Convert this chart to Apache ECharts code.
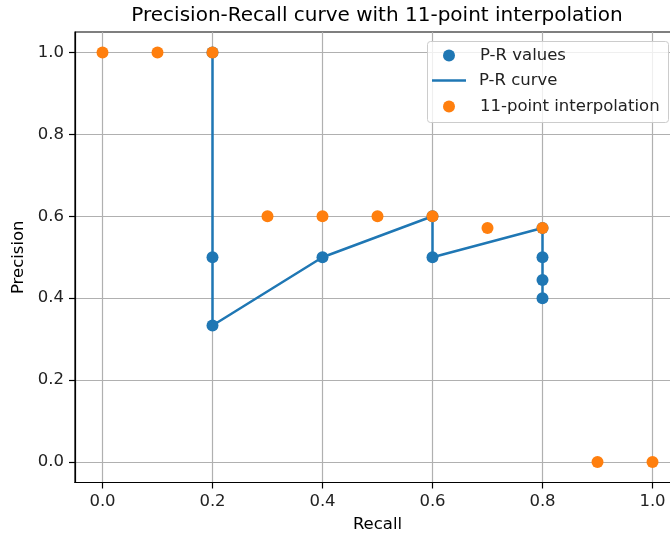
<!DOCTYPE html>
<html>
<head>
<meta charset="utf-8">
<script src="https://cdn.jsdelivr.net/npm/echarts@6/dist/echarts.min.js"></script>
<style>
html,body{margin:0;padding:0;background:#fff;}
#c{width:670px;height:536px;}
</style>
</head>
<body>
<div id="c"></div>
<script>
// P-R values (blue) in order of the curve
const prRecall = [0.2, 0.2, 0.2, 0.4, 0.6, 0.6, 0.8, 0.8, 0.8, 0.8];
const prPrecision = [1.0, 0.5, 0.3333, 0.5, 0.6, 0.5, 0.5714, 0.5, 0.4444, 0.4];
// 11-point interpolation (orange)
const interpRecall = [0.0, 0.1, 0.2, 0.3, 0.4, 0.5, 0.6, 0.7, 0.8, 0.9, 1.0];
const interpPrecision = [1.0, 1.0, 1.0, 0.6, 0.6, 0.6, 0.6, 0.5714, 0.5714, 0.0, 0.0];
// tick labels
const xTicks = [0.0, 0.2, 0.4, 0.6, 0.8, 1.0];
const yTicks = [0.0, 0.2, 0.4, 0.6, 0.8, 1.0];

const FONT = 'DejaVu Sans';
const FS = 16.5;
const blue = '#1f77b4', orange = '#ff7f0e';
const prPts = prRecall.map((r, i) => [r, prPrecision[i]]);
const ipPts = interpRecall.map((r, i) => [r, interpPrecision[i]]);

const chart = echarts.init(document.getElementById('c'), null, {renderer: 'canvas'});

function axisCommon(ticks) {
  return {
    type: 'value',
    min: -0.05, max: 1.05,
    axisLine: {show: true, onZero: false, lineStyle: {color: '#000', width: 1.2}},
    axisTick: {show: true, inside: false, length: 6, lineStyle: {color: '#000', width: 1.2}, customValues: ticks},
    axisLabel: {show: true, color: '#222', fontFamily: FONT, fontSize: FS, margin: 11,
      customValues: ticks, formatter: v => v.toFixed(1)},
    splitLine: {show: true, lineStyle: {color: '#b0b0b0', width: 1.2}},
    nameTextStyle: {color: '#000', fontFamily: FONT, fontSize: FS}
  };
}

const legendCommon = {
  orient: 'vertical', itemGap: 0, padding: 0,
  textStyle: {fontFamily: FONT, fontSize: FS, color: '#222'},
  selectedMode: false, z: 10
};

chart.setOption({
  animation: false,
  backgroundColor: '#fff',
  title: {
    text: 'Precision-Recall curve with 11-point interpolation',
    left: 377, top: 6, padding: 0, textAlign: 'center',
    textStyle: {fontFamily: FONT, fontSize: 20, fontWeight: 'normal', color: '#000'}
  },
  grid: {left: 75, top: 32, width: 605, height: 450.5, containLabel: false, outerBoundsMode: 'none',
    show: true, borderColor: '#000', borderWidth: 1.2, backgroundColor: 'transparent'},
  xAxis: Object.assign(axisCommon(xTicks), {name: 'Recall', nameLocation: 'middle', nameGap: 34}),
  yAxis: Object.assign(axisCommon(yTicks), {name: 'Precision', nameLocation: 'middle', nameGap: 46}),
  graphic: [{
    type: 'rect', left: 427, top: 41, z: 9,
    shape: {width: 241, height: 81, r: 3},
    style: {fill: 'rgba(255,255,255,0.8)', stroke: '#cccccc', lineWidth: 1}
  }],
  legend: [
    Object.assign({}, legendCommon, {left: 443, top: 47, itemWidth: 12, itemHeight: 12, icon: 'circle',
      textStyle: Object.assign({}, legendCommon.textStyle, {padding: [0, 0, 0, 20]}),
      data: [{name: 'P-R values'}]}),
    Object.assign({}, legendCommon, {left: 432, top: 72, itemWidth: 34, itemHeight: 2.5,
      icon: 'rect', textStyle: Object.assign({}, legendCommon.textStyle, {padding: [0, 0, 0, 8]}),
      data: [{name: 'P-R curve'}]}),
    Object.assign({}, legendCommon, {left: 443, top: 98, itemWidth: 12, itemHeight: 12, icon: 'circle',
      textStyle: Object.assign({}, legendCommon.textStyle, {padding: [0, 0, 0, 20]}),
      data: [{name: '11-point interpolation'}]})
  ],
  series: [
    {name: 'P-R values', type: 'scatter', data: prPts, symbol: 'circle', symbolSize: 12,
      itemStyle: {color: blue, opacity: 1}, z: 2},
    {name: 'P-R curve', type: 'line', data: prPts, showSymbol: false, symbol: 'none',
      lineStyle: {color: blue, width: 2.5}, itemStyle: {color: blue}, z: 3},
    {name: '11-point interpolation', type: 'scatter', data: ipPts, symbol: 'circle', symbolSize: 12,
      itemStyle: {color: orange, opacity: 1}, z: 4}
  ]
});
</script>
</body>
</html>
